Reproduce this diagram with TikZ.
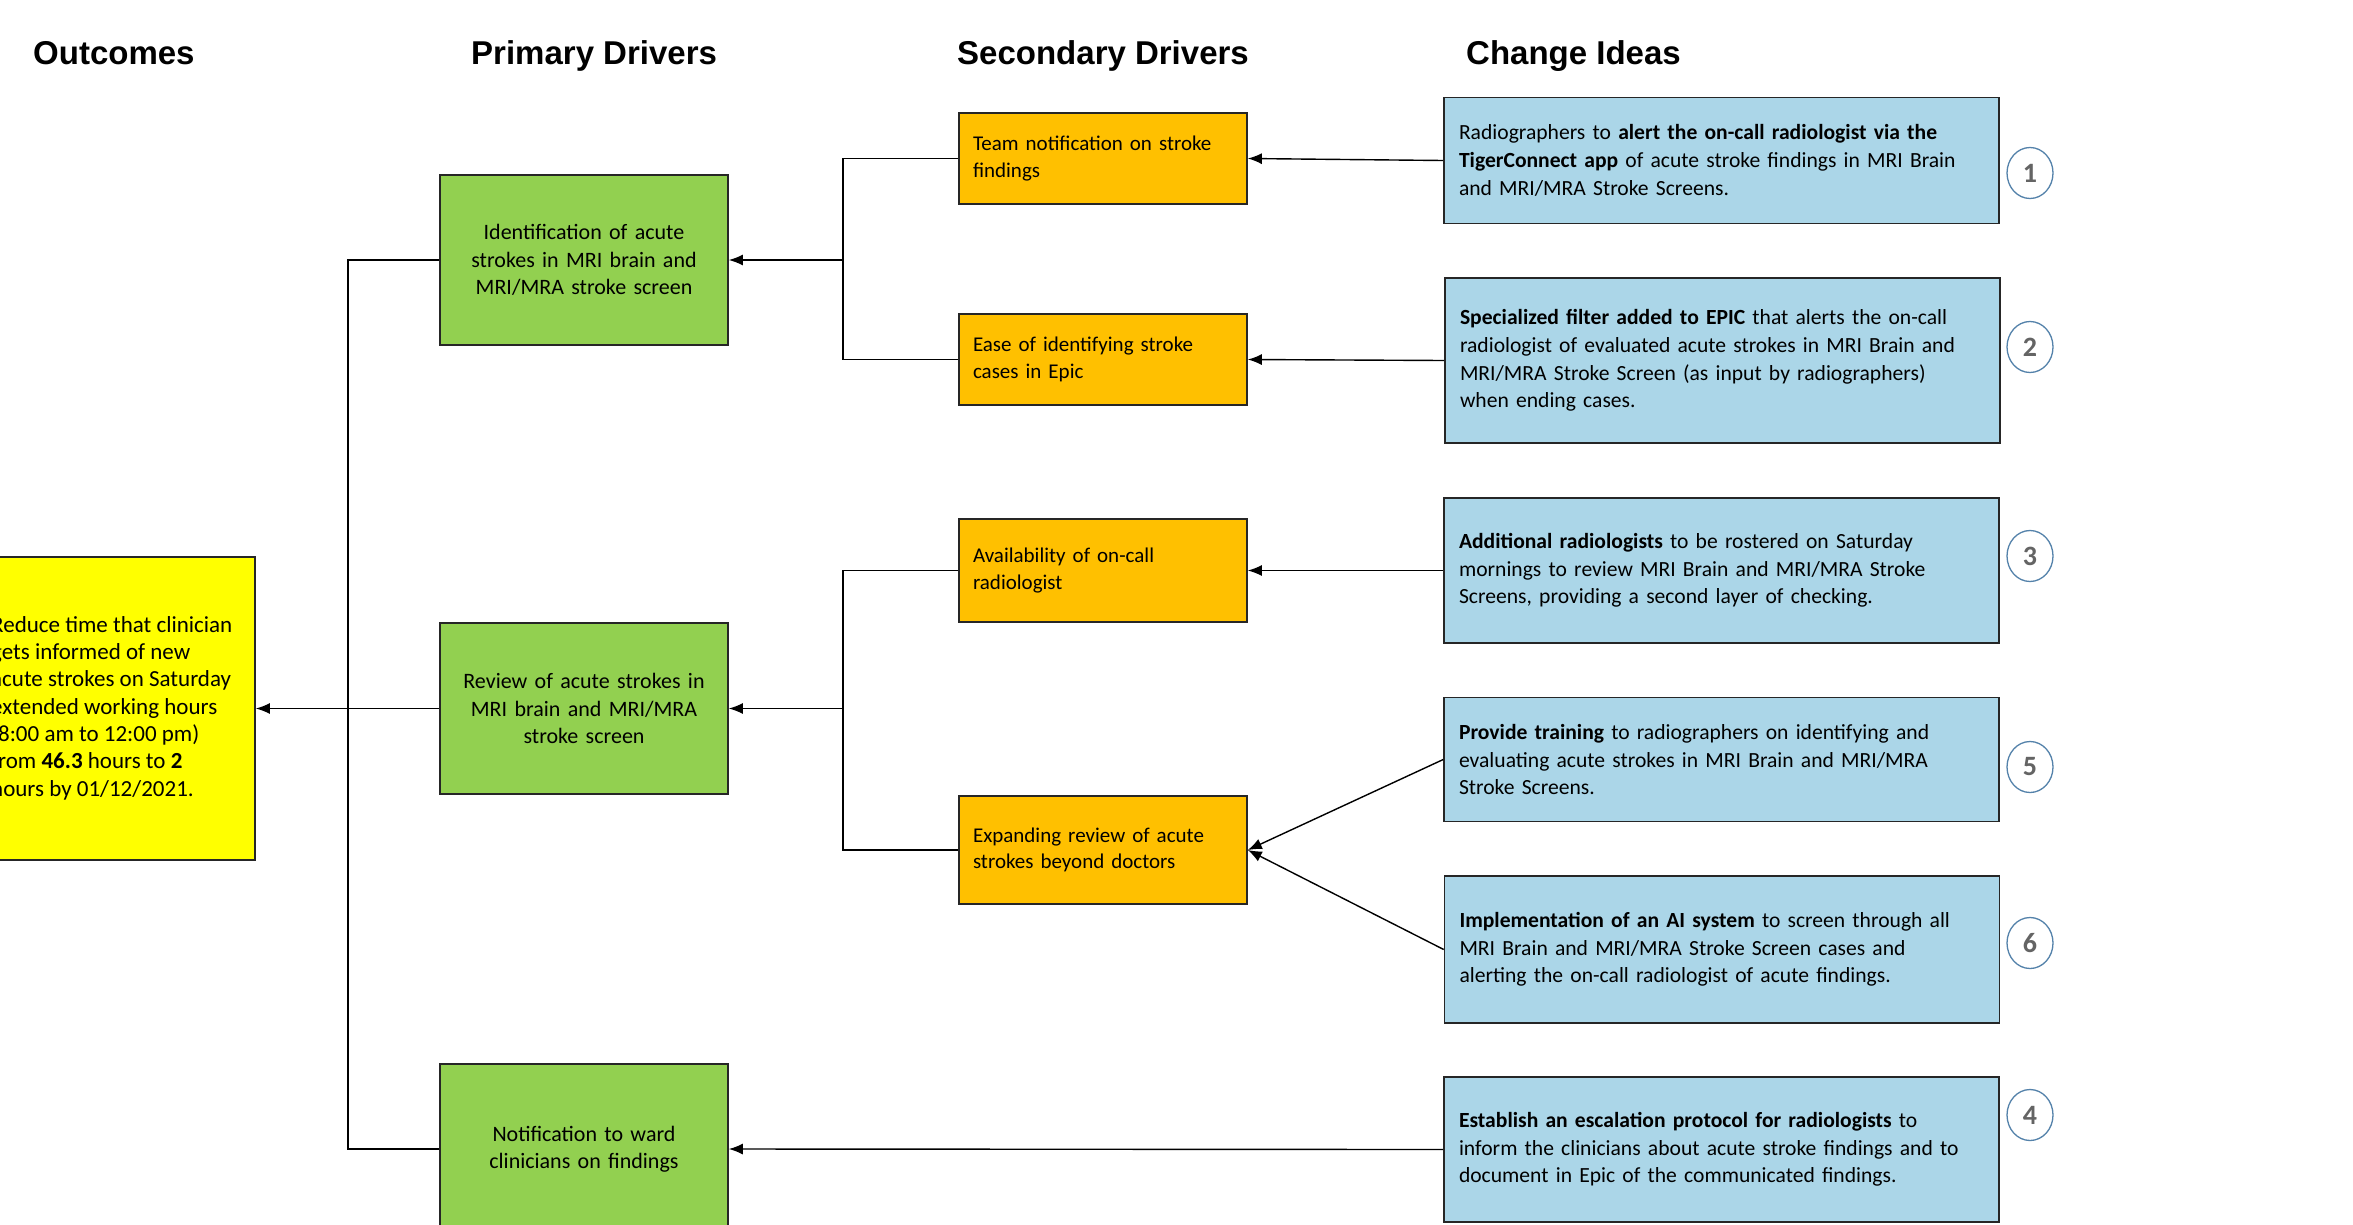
\documentclass[tikz,border=0pt]{standalone}
\usepackage{fontspec}
\setmainfont{Carlito}
\newfontfamily\headfont{Liberation Sans}
\usetikzlibrary{arrows.meta,shapes.geometric}
\definecolor{gfill}{RGB}{146,208,80}
\definecolor{ofill}{RGB}{255,192,0}
\definecolor{bfill}{RGB}{171,214,232}
\definecolor{yfill}{RGB}{255,255,0}
\definecolor{circ}{RGB}{84,130,170}
\definecolor{numgray}{RGB}{100,100,100}
\begin{document}
\begin{tikzpicture}[x=1pt,y=-1pt,
  box/.style={draw=black!85, line width=1.6pt, inner ysep=0pt},
  gbox/.style={box, fill=gfill, minimum width=288pt, text width=276pt, inner xsep=6pt, align=center,
    font=\fontsize{22}{27.5}\selectfont},
  obox/.style={box, fill=ofill, minimum width=288pt, text width=260pt, inner xsep=14pt, align=left,
    font=\fontsize{21}{26.5}\selectfont},
  bbox/.style={box, fill=bfill, minimum width=555pt, text width=525pt, inner xsep=15pt, align=left,
    font=\fontsize{21.6}{27.7}\selectfont},
  num/.style={ellipse, draw=circ, line width=1.3pt, minimum width=46pt, minimum height=51pt, inner sep=0pt,
    text=numgray, font=\bfseries\fontsize{28}{30}\selectfont},
  head/.style={anchor=base west, inner sep=0pt, font=\headfont\bfseries\fontsize{33}{38}\selectfont},
  ln/.style={line width=1.4pt},
  arr/.style={line width=1.4pt, -{Latex[length=14pt,width=11pt]}}
]
\useasboundingbox (0,0) rectangle (2353,1224);
\fill[white] (0,0) rectangle (2353,1224);

% headings
\node[head] (h1) at (33,64) {Outcomes};
\node[head] (h2) at (471,64) {Primary Drivers};
\node[head] (h3) at (957,64) {Secondary Drivers};
\node[head] (h4) at (1466,64) {Change Ideas};

% outcome
\node[box, fill=yfill, minimum width=295pt, minimum height=303pt] (y) at (107.5,708.5) {};
\node[anchor=west, inner sep=0pt, align=left, font=\fontsize{23}{27.3}\selectfont] (ytxt) at (-9,708) {Reduce time that clinician\\ gets informed of new\\ acute strokes on Saturday\\ extended working hours\\ (8:00 am to 12:00 pm)\\ from \textbf{46.3} hours to \textbf{2}\\ hours by 01/12/2021.};

% primary drivers
\node[gbox, minimum height=170pt] (g1) at (584,260) {Identification of acute\\ strokes in MRI brain and\\ MRI/MRA stroke screen};
\node[gbox, minimum height=171pt] (g2) at (584,708.5) {Review of acute strokes in\\ MRI brain and MRI/MRA\\ stroke screen};
\node[gbox, minimum height=170pt] (g3) at (584,1149) {Notification to ward\\ clinicians on findings};

% secondary drivers
\node[obox, minimum height=91pt] (o1) at (1103,158.5) {Team notification on stroke\\ findings};
\node[obox, minimum height=91pt] (o2) at (1103,359.5) {Ease of identifying stroke\\ cases in Epic};
\node[obox, minimum height=103pt] (o3) at (1103,570.5) {Availability of on-call\\ radiologist};
\node[obox, minimum height=108pt] (o4) at (1103,850) {Expanding review of acute\\ strokes beyond doctors};

% change ideas
\node[bbox, minimum height=126pt] (b1) at (1721.5,160.5) {Radiographers to \textbf{alert the on-call radiologist via the}\\ \textbf{TigerConnect app} of acute stroke findings in MRI Brain\\ and MRI/MRA Stroke Screens.};
\node[bbox, minimum height=165pt] (b2) at (1722.5,360.5) {\textbf{Specialized filter added to EPIC} that alerts the on-call\\ radiologist of evaluated acute strokes in MRI Brain and\\ MRI/MRA Stroke Screen (as input by radiographers)\\ when ending cases.};
\node[bbox, minimum height=145pt] (b3) at (1721.5,570.5) {\textbf{Additional radiologists} to be rostered on Saturday\\ mornings to review MRI Brain and MRI/MRA Stroke\\ Screens, providing a second layer of checking.};
\node[bbox, minimum height=124pt] (b5) at (1721.5,759.5) {\textbf{Provide training} to radiographers on identifying and\\ evaluating acute strokes in MRI Brain and MRI/MRA\\ Stroke Screens.};
\node[bbox, minimum height=147pt] (b6) at (1722,949.5) {\textbf{Implementation of an AI system} to screen through all\\ MRI Brain and MRI/MRA Stroke Screen cases and\\ alerting the on-call radiologist of acute findings.};
\node[bbox, minimum height=145pt] (b4) at (1721.5,1149.5) {\textbf{Establish an escalation protocol for radiologists} to\\ inform the clinicians about acute stroke findings and to\\ document in Epic of the communicated findings.};

% numbers
\node[num] (c1) at (2030,173) {1};
\node[num] (c2) at (2030,347) {2};
\node[num] (c3) at (2030,556) {3};
\node[num] (c5) at (2030,767) {5};
\node[num] (c6) at (2030,943) {6};
\node[num] (c4) at (2030,1115) {4};

% junctions
\coordinate (j1) at (843,260);
\coordinate (j2) at (843,708.5);
\coordinate (j3) at (348,708.5);

% connectors
\draw[arr] (b1.west) -- (o1.east);
\draw[arr] (b2.west) -- (o2.east);
\draw[arr] (b3.west) -- (o3.east);
\draw[arr] (b5.west) -- (o4.east);
\draw[arr] (b6.west) -- (o4.east);
\draw[arr] (b4.west) -- (g3.east);

\draw[ln] (o1.west) -| (j1) |- (o2.west);
\draw[arr] (j1) -- (g1.east);
\draw[ln] (o3.west) -| (j2) |- (o4.west);
\draw[arr] (j2) -- (g2.east);

\draw[ln] (g1.west) -| (j3) |- (g3.west);
\draw[arr] (g2.west) -- (y.east);
\end{tikzpicture}
\end{document}
